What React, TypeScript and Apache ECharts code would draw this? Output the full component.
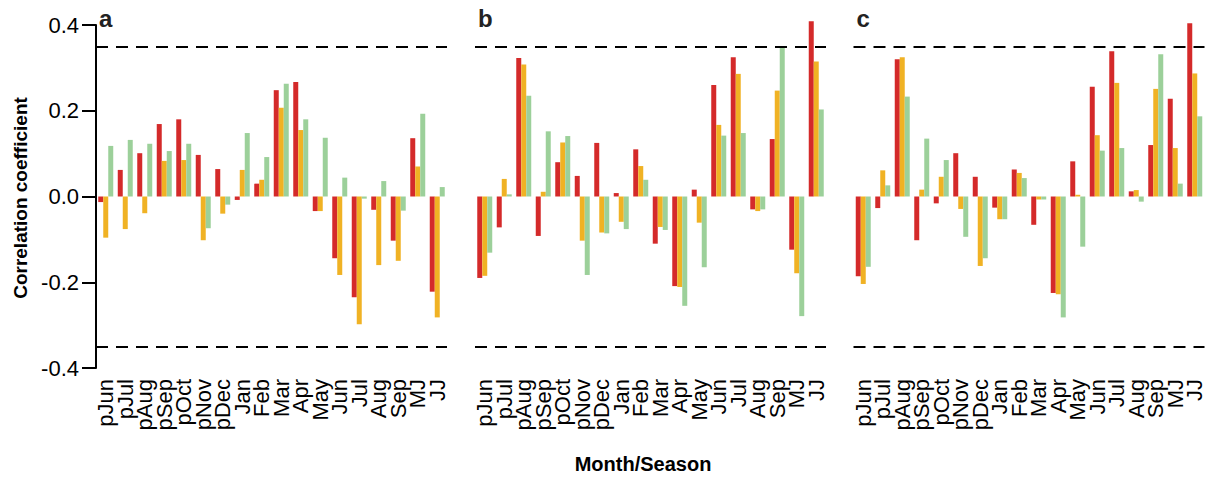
import React, { useEffect, useRef } from "react";
import * as echarts from "echarts";

// Months of the previous (p) and current growing year, plus two seasonal means
const months = [
  "pJun", "pJul", "pAug", "pSep", "pOct", "pNov", "pDec",
  "Jan", "Feb", "Mar", "Apr", "May", "Jun", "Jul", "Aug", "Sep", "MJ", "JJ",
];

const yTicks = [-0.4, -0.2, 0.0, 0.2, 0.4];
const significance = 0.355;

// Panel a
const aRed = [-0.013, 0.062, 0.101, 0.169, 0.18, 0.097, 0.064, -0.008, 0.03, 0.248, 0.267, -0.034, -0.144, -0.235, -0.031, -0.103, 0.136, -0.222];
const aOrange = [-0.096, -0.076, -0.039, 0.083, 0.085, -0.102, -0.04, 0.062, 0.039, 0.207, 0.155, -0.034, -0.183, -0.298, -0.16, -0.15, 0.07, -0.282];
const aGreen = [0.118, 0.132, 0.123, 0.106, 0.123, -0.074, -0.019, 0.148, 0.092, 0.263, 0.18, 0.137, 0.044, -0.005, 0.036, -0.033, 0.193, 0.022];

// Panel b
const bRed = [-0.19, -0.072, 0.323, -0.092, 0.08, 0.048, 0.125, 0.008, 0.11, -0.11, -0.209, 0.016, 0.26, 0.325, -0.03, 0.134, -0.124, 0.409];
const bOrange = [-0.185, 0.041, 0.308, 0.011, 0.126, -0.103, -0.084, -0.059, 0.071, -0.071, -0.211, -0.061, 0.167, 0.286, -0.034, 0.247, -0.179, 0.315];
const bGreen = [-0.131, 0.005, 0.235, 0.152, 0.141, -0.183, -0.086, -0.076, 0.039, -0.078, -0.255, -0.165, 0.142, 0.148, -0.03, 0.351, -0.279, 0.203];

// Panel c
const cRed = [-0.186, -0.027, 0.32, -0.102, -0.016, 0.101, 0.046, -0.026, 0.063, -0.066, -0.225, 0.082, 0.256, 0.339, 0.012, 0.12, 0.228, 0.404];
const cOrange = [-0.204, 0.061, 0.325, 0.016, 0.046, -0.029, -0.162, -0.053, 0.055, -0.007, -0.228, 0.004, 0.143, 0.265, 0.015, 0.251, 0.113, 0.287];
const cGreen = [-0.164, 0.026, 0.233, 0.135, 0.085, -0.094, -0.144, -0.053, 0.043, -0.007, -0.282, -0.117, 0.107, 0.113, -0.012, 0.332, 0.03, 0.187];

const panelLabels = ["a", "b", "c"];
const panels = [
  [aRed, aOrange, aGreen],
  [bRed, bOrange, bGreen],
  [cRed, cOrange, cGreen],
];
const colors = ["#D42A2A", "#F0B224", "#9CD09A"];

const FONT = "'Liberation Sans', Arial, Helvetica, sans-serif";
const gridLefts = [96, 475, 853.5];
const GRID_W = 351;
const GRID_TOP = 25;
const GRID_BOTTOM = 111;

export default function App() {
  const ref = useRef<HTMLDivElement>(null);

  useEffect(() => {
    if (!ref.current) return;
    const chart = echarts.init(ref.current, undefined, { renderer: "svg" });

    const grid = gridLefts.map((left) => ({
      left,
      top: GRID_TOP,
      width: GRID_W,
      bottom: GRID_BOTTOM,
      containLabel: false,
    }));

    const xAxis = panels.map((_, i) => ({
      type: "category",
      gridIndex: i,
      data: months,
      boundaryGap: true,
      axisLine: { show: false },
      axisTick: { show: false },
      splitLine: { show: false },
      axisLabel: {
        interval: 0,
        rotate: 90,
        margin: 11,
        fontSize: 22,
        color: "#000",
        fontFamily: FONT,
      },
    }));

    const yAxis = panels.map((_, i) => ({
      type: "value",
      gridIndex: i,
      min: yTicks[0],
      max: yTicks[yTicks.length - 1],
      interval: 0.2,
      show: i === 0,
      axisLine: { show: i === 0, onZero: false, lineStyle: { color: "#000", width: 2 } },
      axisTick: { show: i === 0, length: 14, lineStyle: { color: "#000", width: 2 } },
      splitLine: { show: false },
      axisLabel: {
        show: i === 0,
        margin: 17,
        fontSize: 22,
        color: "#000",
        fontFamily: FONT,
        formatter: (v: number) => v.toFixed(1),
      },
    }));

    const series: any[] = [];
    panels.forEach((group, p) => {
      group.forEach((values, s) => {
        series.push({
          type: "bar",
          name: `${panelLabels[p]}-${s + 1}`,
          xAxisIndex: p,
          yAxisIndex: p,
          data: values,
          barWidth: 5,
          barGap: "0%",
          clip: false,
          itemStyle: { color: colors[s] },
          markLine:
            s === 0
              ? {
                  silent: true,
                  symbol: ["none", "none"],
                  label: { show: false },
                  lineStyle: { color: "#000", width: 2, type: [12, 8] },
                  data: [{ yAxis: significance }, { yAxis: -significance }],
                }
              : undefined,
        });
      });
    });

    const graphic: any[] = [
      {
        type: "text",
        x: 20,
        y: 198,
        rotation: Math.PI / 2,
        style: {
          text: "Correlation coefficient",
          font: `bold 19px ${FONT}`,
          fill: "#000",
          align: "center",
          verticalAlign: "middle",
        },
      },
      {
        type: "text",
        x: 643,
        y: 464,
        style: {
          text: "Month/Season",
          font: `bold 20px ${FONT}`,
          fill: "#000",
          align: "center",
          verticalAlign: "middle",
        },
      },
      ...panelLabels.map((label, i) => ({
        type: "text",
        x: gridLefts[i] + 3,
        y: 18,
        style: {
          text: label,
          font: `bold 24px ${FONT}`,
          fill: "#222",
          align: "left",
          verticalAlign: "middle",
        },
      })),
    ];

    chart.setOption({
      animation: false,
      backgroundColor: "#fff",
      textStyle: { fontFamily: FONT },
      grid,
      xAxis,
      yAxis,
      series,
      graphic,
    });

    return () => chart.dispose();
  }, []);

  return (
    <div
      ref={ref}
      style={{ position: "fixed", left: 0, top: 0, width: 1206, height: 479 }}
    />
  );
}
